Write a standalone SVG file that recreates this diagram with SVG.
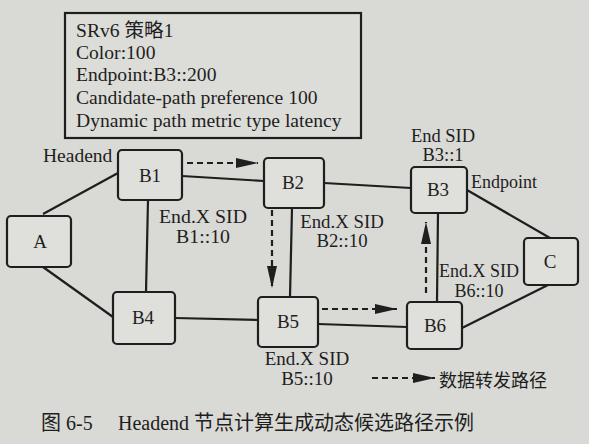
<svg xmlns="http://www.w3.org/2000/svg" width="589" height="444" viewBox="0 0 589 444" font-family="'Liberation Serif', 'Times New Roman', 'DejaVu Serif', serif">
<defs>
<style>
.t{fill:#1e1e1e;}
.cjk{font-family:"Noto Sans CJK SC",sans-serif;}
.n{fill:#dfdfdb;stroke:#1e1e1e;stroke-width:2.2;}
.l{stroke:#1e1e1e;stroke-width:2.2;fill:none;}
.d{stroke:#1e1e1e;stroke-width:2.2;fill:none;stroke-dasharray:6 4;}
.lab{font-size:19px;text-anchor:middle;}
.nl{font-size:19px;text-anchor:middle;}
</style>
<marker id="ahb" viewBox="0 0 10 10" refX="10" refY="5" markerWidth="22" markerHeight="10" markerUnits="userSpaceOnUse" orient="auto" preserveAspectRatio="none">
<path d="M0,0 L10,5 L0,10 Z" fill="#1e1e1e"/>
</marker>
</defs>
<rect width="589" height="444" fill="#d9d9d5"/>

<g id="policy">
<rect x="65" y="13" width="296" height="125" fill="#dcdcd8" stroke="#1e1e1e" stroke-width="2.2"/>
<text class="t" x="76" y="37" font-size="19.6">SRv6 <tspan class="cjk">策略</tspan>1</text>
<text class="t" x="76" y="59" font-size="19.6">Color:100</text>
<text class="t" x="76" y="81" font-size="19.6">Endpoint:B3::200</text>
<text class="t" x="76" y="104" font-size="19.6">Candidate-path preference 100</text>
<text class="t" x="76" y="127" font-size="19.6">Dynamic path metric type latency</text>
</g>

<g id="connectors">
<line class="l" x1="43" y1="214" x2="118" y2="173"/>
<line class="l" x1="43" y1="267" x2="113" y2="317"/>
<line class="l" x1="182" y1="176" x2="264" y2="181"/>
<line class="l" x1="148" y1="200" x2="146" y2="292"/>
<line class="l" x1="175" y1="318" x2="258" y2="320"/>
<line class="l" x1="292" y1="208" x2="290" y2="297"/>
<line class="l" x1="324" y1="183" x2="411" y2="188"/>
<line class="l" x1="467" y1="190" x2="550" y2="238"/>
<line class="l" x1="438" y1="213" x2="437" y2="302"/>
<line class="l" x1="318" y1="324" x2="407" y2="327"/>
<line class="l" x1="462" y1="328" x2="548" y2="285"/>
<line class="d" x1="187" y1="163" x2="258" y2="163" marker-end="url(#ahb)"/>
<line class="d" x1="272" y1="210" x2="272" y2="288" marker-end="url(#ahb)"/>
<line class="d" x1="322" y1="309" x2="397" y2="309" marker-end="url(#ahb)"/>
<line class="d" x1="426" y1="293" x2="426" y2="222" marker-end="url(#ahb)"/>
<line class="d" x1="372" y1="378" x2="435" y2="378" marker-end="url(#ahb)"/>
</g>

<g id="A"><rect class="n" x="7" y="216" width="64" height="51" rx="4"/><text class="t nl" x="40" y="248">A</text></g>
<g id="B1"><rect class="n" x="118" y="150" width="64" height="50" rx="4"/><text class="t nl" x="150" y="182">B1</text></g>
<g id="B2"><rect class="n" x="264" y="158" width="60" height="50" rx="4"/><text class="t nl" x="293" y="189">B2</text></g>
<g id="B3"><rect class="n" x="411" y="167" width="56" height="46" rx="4"/><text class="t nl" x="438" y="196">B3</text></g>
<g id="B4"><rect class="n" x="113" y="292" width="62" height="52" rx="4"/><text class="t nl" x="143" y="324">B4</text></g>
<g id="B5"><rect class="n" x="258" y="297" width="60" height="50" rx="4"/><text class="t nl" x="288" y="328">B5</text></g>
<g id="B6"><rect class="n" x="407" y="302" width="55" height="47" rx="4"/><text class="t nl" x="435" y="332">B6</text></g>
<g id="C"><rect class="n" x="524" y="238" width="54" height="47" rx="4"/><text class="t nl" x="550" y="268">C</text></g>

<g id="labels">
<text class="t" x="43" y="162" font-size="19.5">Headend</text>
<text class="t lab" x="203" y="223" font-size="19.8" style="font-size:19.8px">End.X SID</text>
<text class="t lab" x="203" y="243" style="font-size:19.8px">B1::10</text>
<text class="t lab" x="342" y="228" style="font-size:18.8px">End.X SID</text>
<text class="t lab" x="342" y="247" style="font-size:18.8px">B2::10</text>
<text class="t lab" x="443" y="142" style="font-size:18.5px">End SID</text>
<text class="t lab" x="443" y="161" style="font-size:18.5px">B3::1</text>
<text class="t" x="471" y="188" font-size="18">Endpoint</text>
<text class="t lab" x="479" y="277" style="font-size:18px">End.X SID</text>
<text class="t lab" x="479" y="297" style="font-size:18px">B6::10</text>
<text class="t lab" x="307" y="365">End.X SID</text>
<text class="t lab" x="307" y="385">B5::10</text>
<text class="t cjk" x="439" y="387" font-size="18">数据转发路径</text>
</g>

<g id="caption">
<text class="t" x="41" y="430" font-size="20"><tspan class="cjk">图</tspan> 6-5</text>
<text class="t" x="118" y="430" font-size="20">Headend <tspan class="cjk">节点计算生成动态候选路径示例</tspan></text>
</g>
</svg>
